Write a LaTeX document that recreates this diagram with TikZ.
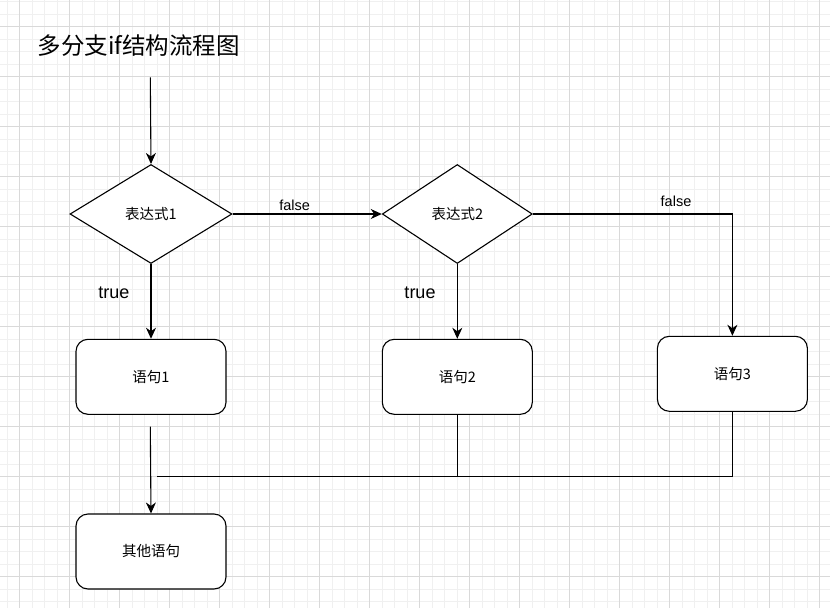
\documentclass[tikz,border=0pt]{standalone}
\usepackage{fontspec}
\setmainfont{Liberation Sans}
\newfontfamily\cjk{Noto Sans CJK SC}
\usetikzlibrary{shapes.geometric,arrows.meta}
\tikzset{
  minorgrid/.style={draw=black!6,line width=1pt},
  majorgrid/.style={draw=black!15,line width=1pt},
  dec/.style={draw=black,line width=1.1pt,fill=white,shape=diamond,inner sep=0pt,
    minimum width=#1,minimum height=99pt,font=\cjk\fontsize{14.5}{17}\selectfont},
  stmt/.style={draw=black,line width=1.1pt,fill=white,rounded corners=12pt,
    minimum width=150pt,minimum height=75pt,inner sep=0pt,font=\cjk\fontsize{14.5}{17}\selectfont},
  conn/.style={draw=black,line width=1.1pt},
  arr/.style={conn,-{Stealth[length=11pt,width=10pt,inset=3.5pt]}},
  lblsmall/.style={inner sep=0pt,font=\fontsize{14.5}{17}\selectfont},
  lblbig/.style={inner sep=0pt,font=\fontsize{18}{21}\selectfont},
}
\begin{document}
\begin{tikzpicture}[x=1pt,y=-1pt]
\useasboundingbox (0,0) rectangle (830,608);
\fill[white] (0,0) rectangle (830,608);
% grid
\foreach \i in {0,...,66} \draw[minorgrid] ({7+12.5*\i},0) -- ({7+12.5*\i},608);
\foreach \i in {0,...,48} \draw[minorgrid] (0,{1.7+12.5*\i}) -- (830,{1.7+12.5*\i});
\foreach \i in {0,...,16} \draw[majorgrid] ({19.5+50*\i},0) -- ({19.5+50*\i},608);
\foreach \i in {0,...,11} \draw[majorgrid] (0,{26.7+50*\i}) -- (830,{26.7+50*\i});
% title
\node[inner sep=0pt,anchor=west,font=\cjk\fontsize{23.5}{28}\selectfont] (title) at (37.5,46) {多分支if结构流程图};
% nodes
\coordinate (start) at (150.3,77.3);
\node[dec=162pt] (d1) at (151,214) {表达式1};
\node[dec=150pt] (d2) at (457.3,214) {表达式2};
\node[stmt] (s1) at (151,376.8) {语句1};
\node[stmt] (s2) at (457.3,376.8) {语句2};
\node[stmt] (s3) at (732.4,373.8) {语句3};
\node[stmt] (s4) at (151,551.5) {其他语句};
\coordinate (c1) at (150.3,426.7);
\coordinate (jl) at (157,476.7);
\coordinate (j2) at (457.3,476.7);
\coordinate (j3) at (732.4,476.7);
\coordinate (f2) at (732.4,214);
% connectors
\draw[arr] (start) -- (d1.north);
\draw[arr] (d1.south) -- (s1.north);
\draw[arr] (d1.east) -- (d2.west);
\draw[arr] (d2.south) -- (s2.north);
\draw[arr] (d2.east) -- (f2) -- (s3.north);
\draw[arr] (c1) -- (s4.north);
\draw[conn] (s2.south) -- (j2);
\draw[conn] (s3.south) -- (j3);
\draw[conn] (jl) -- (j3);
% labels
\node[lblsmall] (lf1) at (294.7,205.5) {false};
\node[lblsmall] (lf2) at (676,201.5) {false};
\node[lblbig] (lt1) at (114,293) {true};
\node[lblbig] (lt2) at (420,293) {true};
\end{tikzpicture}
\end{document}
